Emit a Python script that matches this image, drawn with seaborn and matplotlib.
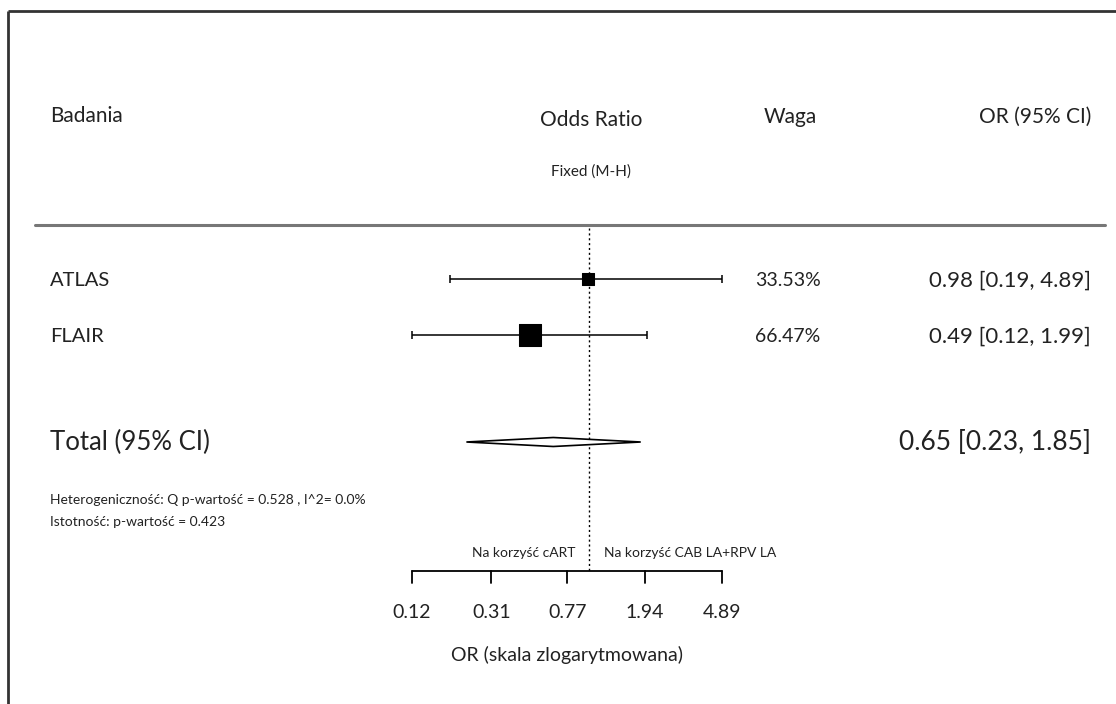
#!/usr/bin/env python3

import numpy as np
import pandas as pd
import seaborn as sns
from matplotlib import pyplot as plt
from matplotlib.patches import Polygon

studies = ["ATLAS", "FLAIR"]
odds_ratio = [0.98, 0.49]
ci_lower = [0.19, 0.12]
ci_upper = [4.89, 1.99]
weights = [33.53, 66.47]

total_label = "Total (95% CI)"
total_or = 0.65
total_lower = 0.23
total_upper = 1.85

tick_values = [0.12, 0.31, 0.77, 1.94, 4.89]
heterogeneity = "Heterogeniczność: Q p-wartość = 0.528 , I^2= 0.0%"
significance = "Istotność: p-wartość = 0.423"

W, H = 1116, 704
TEXT = "#222222"

# layout (pixel rows)
row_y = [279, 335]
total_y = 442
axis_left, axis_right = 412, 722
axis_y = 571


def main():
    sns.set_theme(style="white")
    plt.rcParams["font.family"] = ["Lato", "DejaVu Sans"]

    fig = plt.figure(figsize=(W / 100, H / 100), dpi=100)

    # overlay in pixel units for text and rules
    lay = fig.add_axes([0, 0, 1, 1])
    lay.set_xlim(0, W)
    lay.set_ylim(H, 0)
    lay.axis("off")

    # log axes for the marks, same vertical units
    ax = fig.add_axes([0, 0, 1, 1])
    ax.patch.set_alpha(0)
    ax.set_xscale("log")
    lo, hi = np.log10(tick_values[0]), np.log10(tick_values[-1])
    per_px = (hi - lo) / (axis_right - axis_left)
    ax.set_xlim(10 ** (lo - axis_left * per_px), 10 ** (lo + (W - axis_left) * per_px))
    ax.set_ylim(H, 0)
    ax.axis("off")

    # frame
    lay.plot([8, 8], [11, H], color="#333333", lw=2, solid_capstyle="butt")
    lay.plot([8, W], [11, 11], color="#333333", lw=2, solid_capstyle="butt")

    # headers
    lay.text(50, 116, "Badania", fontsize=15, color=TEXT, va="center", ha="left")
    lay.text(591, 120, "Odds Ratio", fontsize=15, color=TEXT, va="center", ha="center")
    lay.text(790, 117, "Waga", fontsize=15, color=TEXT, va="center", ha="center")
    lay.text(1091, 117, "OR (95% CI)", fontsize=15, color=TEXT, va="center", ha="right")
    lay.text(591, 172, "Fixed (M-H)", fontsize=11, color=TEXT, va="center", ha="center")
    lay.plot([35, 1105], [225, 225], color="#777777", lw=2.2)

    df = pd.DataFrame({"Study": studies, "OR": odds_ratio, "Weight": weights, "y": row_y})

    # CI lines
    xerr = [np.array(odds_ratio) - np.array(ci_lower), np.array(ci_upper) - np.array(odds_ratio)]
    ax.errorbar(odds_ratio, row_y, xerr=xerr, fmt="none", ecolor="black", elinewidth=1.1,
                capsize=3, capthick=1.1, zorder=2)
    sns.scatterplot(df, x="OR", y="y", size="Weight", sizes=(75, 250), marker="s",
                    color="black", edgecolor="black", legend=False, ax=ax, zorder=3)

    for i, name in enumerate(studies):
        lay.text(50, row_y[i] + 2, name, fontsize=14.5, color=TEXT, va="center", ha="left")
        lay.text(788, row_y[i] + 2, f"{weights[i]:.2f}%", fontsize=14, color=TEXT, va="center", ha="center")
        lay.text(1091, row_y[i] + 2, f"{odds_ratio[i]:.2f} [{ci_lower[i]:.2f}, {ci_upper[i]:.2f}]",
                 fontsize=16, color=TEXT, va="center", ha="right")

    # pooled diamond
    ax.add_patch(Polygon([[total_lower, total_y], [total_or, total_y - 4.5],
                          [total_upper, total_y], [total_or, total_y + 4.5]],
                         closed=True, facecolor="white", edgecolor="black", lw=1.2, zorder=3))
    lay.text(50, total_y, total_label, fontsize=18.5, color=TEXT, va="center", ha="left")
    lay.text(1091, total_y, f"{total_or:.2f} [{total_lower:.2f}, {total_upper:.2f}]",
             fontsize=19, color=TEXT, va="center", ha="right")

    lay.text(50, 500, heterogeneity, fontsize=10, color=TEXT, va="center", ha="left")
    lay.text(50, 522, significance, fontsize=10, color=TEXT, va="center", ha="left")

    # reference line at OR = 1
    ax.plot([1, 1], [228, axis_y], color="black", lw=1, ls=(0, (1.5, 2)), zorder=1)

    lay.text(575, 553, "Na korzyść cART", fontsize=10, color=TEXT, va="center", ha="right")
    lay.text(604, 553, "Na korzyść CAB LA+RPV LA", fontsize=10, color=TEXT, va="center", ha="left")

    # bottom axis
    ax.plot([tick_values[0], tick_values[-1]], [axis_y, axis_y], color="black", lw=1.3)
    for t in tick_values:
        ax.plot([t, t], [axis_y, axis_y + 12], color="black", lw=1.3)
        ax.text(t, 613, f"{t:.2f}", fontsize=14, color=TEXT, va="center", ha="center")
    lay.text(567, 655, "OR (skala zlogarytmowana)", fontsize=14, color=TEXT, va="center", ha="center")

    plt.savefig("out.png", dpi=100)
    plt.close()


if __name__ == '__main__':
    main()
